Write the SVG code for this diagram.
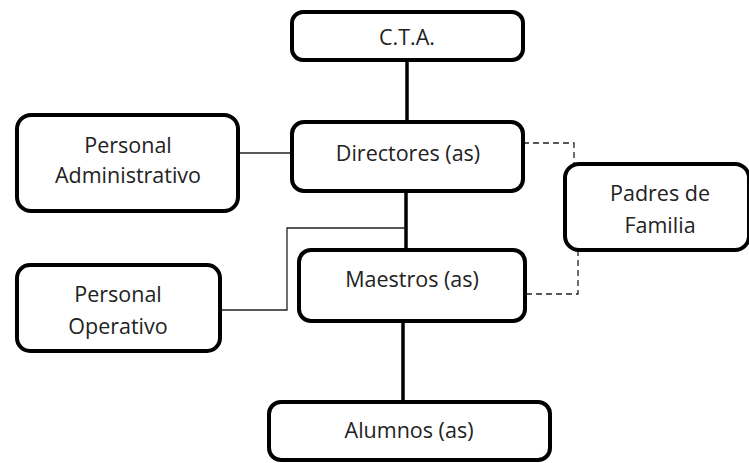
<svg xmlns="http://www.w3.org/2000/svg" width="749" height="463" viewBox="0 0 749 463">
<style>
.box{fill:#fff;stroke:#000;stroke-width:4}
.t{font-family:"Open Sans","Liberation Sans",sans-serif;font-size:21.5px;fill:#222;text-anchor:middle}
.main{stroke:#000;stroke-width:3.5;fill:none}
.thin{stroke:#222;stroke-width:1.3;fill:none}
.dash{stroke:#222;stroke-width:1.3;fill:none;stroke-dasharray:6 4}
</style>
<rect width="749" height="463" fill="#fff"/>
<g id="connectors">
<line class="main" x1="407" y1="60" x2="407" y2="122"/>
<line class="main" x1="406" y1="191" x2="406" y2="250"/>
<line class="main" x1="403" y1="321" x2="403" y2="402"/>
<line class="thin" x1="238" y1="153" x2="292" y2="153"/>
<polyline class="thin" points="220,310 287,310 287,228 406,228"/>
<polyline class="dash" points="523,143 574,143 574,164"/>
<polyline class="dash" points="578,250 578,294 525,294"/>
</g>
<g id="cta"><rect class="box" x="292" y="12" width="231" height="48" rx="11"/><text class="t" x="407" y="45">C.T.A.</text></g>
<g id="directores"><rect class="box" x="292" y="122" width="231" height="69" rx="12"/><text class="t" x="408" y="161">Directores (as)</text></g>
<g id="admin"><rect class="box" x="17" y="115" width="221" height="96" rx="14"/><text class="t" x="128" y="153">Personal</text><text class="t" x="128" y="183">Administrativo</text></g>
<g id="operativo"><rect class="box" x="17" y="265" width="203" height="86" rx="13"/><text class="t" x="118" y="302">Personal</text><text class="t" x="118" y="334">Operativo</text></g>
<g id="maestros"><rect class="box" x="299" y="250" width="226" height="71" rx="12"/><text class="t" x="412" y="287">Maestros (as)</text></g>
<g id="padres"><rect class="box" x="565" y="164" width="184" height="86" rx="14"/><text class="t" x="660" y="201">Padres de</text><text class="t" x="660" y="233">Familia</text></g>
<g id="alumnos"><rect class="box" x="269" y="402" width="281" height="58" rx="12"/><text class="t" x="409" y="438">Alumnos (as)</text></g>
</svg>
